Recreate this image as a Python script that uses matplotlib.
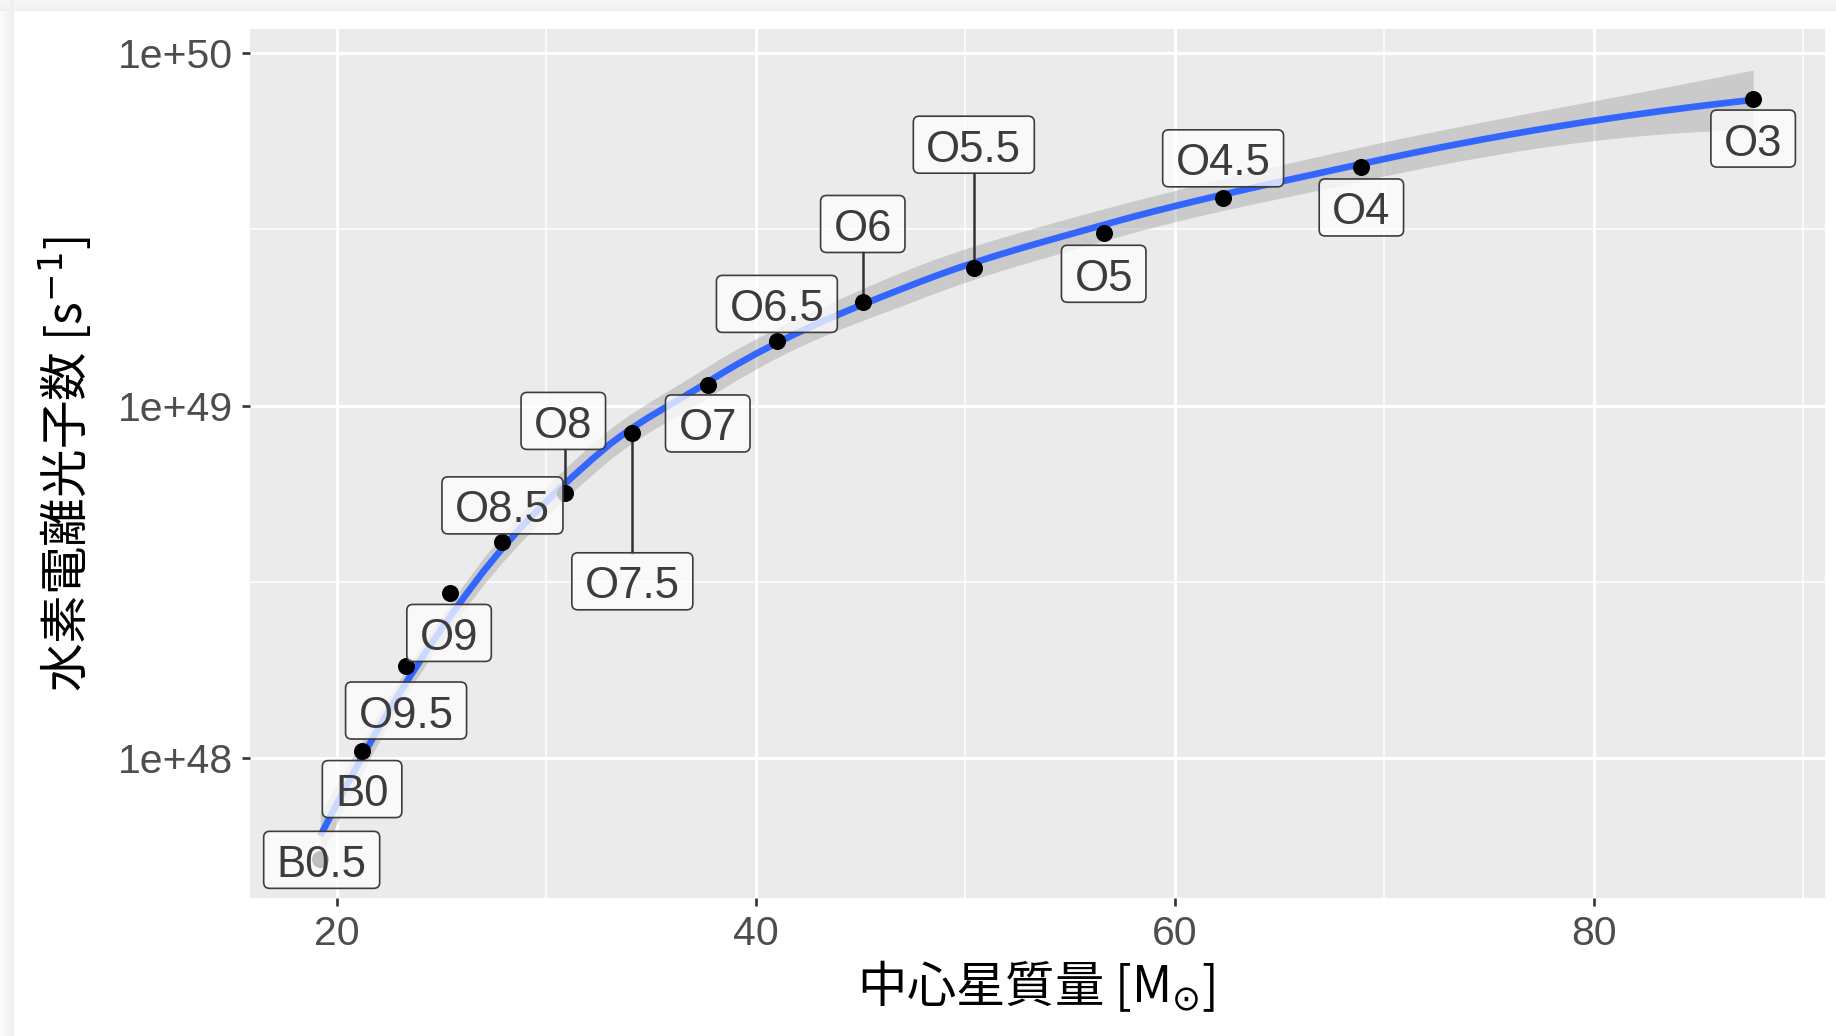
import numpy as np
import matplotlib
matplotlib.use("Agg")
import matplotlib.pyplot as plt
from matplotlib.patches import FancyBboxPatch
from matplotlib.lines import Line2D
from matplotlib.transforms import IdentityTransform
from matplotlib.ticker import FixedLocator, FixedFormatter, NullFormatter

# spectral type, stellar mass [Msun], ionising photon rate [s^-1]
spectral_type = ["B0.5", "B0", "O9.5", "O9", "O8.5", "O8", "O7.5", "O7",
                 "O6.5", "O6", "O5.5", "O5", "O4.5", "O4", "O3"]
mass = [19.2, 21.2, 23.3, 25.4, 27.9, 30.9, 34.1, 37.7,
        41.0, 45.1, 50.4, 56.6, 62.3, 68.9, 87.6]
q_h = [5.16e47, 1.05e48, 1.83e48, 2.94e48, 4.09e48, 5.65e48, 8.34e48, 1.14e49,
       1.52e49, 1.96e49, 2.46e49, 3.08e49, 3.87e49, 4.75e49, 7.40e49]

x_ticks = [20, 40, 60, 80]
x_tick_labels = ["20", "40", "60", "80"]
y_ticks = [1e48, 1e49, 1e50]
y_tick_labels = ["1e+48", "1e+49", "1e+50"]

# label placement (pixel offsets from each point, up is positive)
label_offset = [(1.5, -0.5), (0, -38.5), (0, -45), (-1, -40), (0, 37),
                (-2, 72), (0, -148), (0, -38), (0, 37.5), (0, 78.5),
                (0, 123), (0, -40.5), (0, 40), (0, -40.5), (0, -39.5)]
with_segment = ["O8", "O7.5", "O6", "O5.5"]

W, H, DPI = 1836, 1036, 100
LABEL_FONT = "Liberation Sans"
CJK = ["Noto Sans CJK JP", "DejaVu Sans"]


def local_fit(x, x0, q):
    """Rows of the local quadratic smoother at x0: value and slope."""
    n = len(x)
    d = np.abs(x - x0)
    h = np.sort(d)[q - 1]
    w = np.clip(1 - (d / h) ** 3, 0, None) ** 3
    X = np.column_stack([np.ones(n), x - x0, (x - x0) ** 2])
    XtW = X.T * w
    sol = np.linalg.solve(XtW @ X, XtW)
    return sol[0], sol[1]


def kd_vertices(x, fc):
    def split(pts):
        if len(pts) <= fc:
            return []
        m = np.median(pts)
        return split(pts[pts <= m]) + [m] + split(pts[pts > m])
    margin = 0.005 * (x.max() - x.min())
    return np.array([x.min() - margin] + split(np.sort(x)) + [x.max() + margin])


def hermite(xv, fv, dv, xn):
    i = np.clip(np.searchsorted(xv, xn) - 1, 0, len(xv) - 2)
    h = xv[i + 1] - xv[i]
    t = (xn - xv[i]) / h
    h00 = 2 * t**3 - 3 * t**2 + 1
    h10 = t**3 - 2 * t**2 + t
    h01 = -2 * t**3 + 3 * t**2
    h11 = t**3 - t**2
    return h00 * fv[i] + h10 * h * dv[i] + h01 * fv[i + 1] + h11 * h * dv[i + 1]


def loess(x, y, x_new, span=0.75):
    """Loess (degree 2) on kd-tree vertices with cubic interpolation, 95% band."""
    n = len(x)
    q = int(np.floor(n * span))
    fc = int(np.floor(n * span * 0.2))
    xv = kd_vertices(x, fc)

    def operator(points):
        rows = [local_fit(x, v, q) for v in points]
        return np.array([r[0] for r in rows]), np.array([r[1] for r in rows])

    Lv, Dv = operator(xv)

    def interp_rows(points):
        return np.array([hermite(xv, Lv[:, j], Dv[:, j], points)
                         for j in range(n)]).T

    L = interp_rows(x)
    M = (np.eye(n) - L).T @ (np.eye(n) - L)
    one_delta = np.trace(M)
    two_delta = np.trace(M @ M)
    s = np.sqrt(np.sum((y - L @ y) ** 2) / one_delta)
    df = one_delta ** 2 / two_delta
    z = 1.959964
    t = (z + (z**3 + z) / 4 / df
         + (5 * z**5 + 16 * z**3 + 3 * z) / 96 / df**2
         + (3 * z**7 + 19 * z**5 + 17 * z**3 - 15 * z) / 384 / df**3)
    Ln = interp_rows(x_new)
    fit = Ln @ y
    se = s * np.sqrt(np.sum(Ln ** 2, axis=1))
    return fit, fit - t * se, fit + t * se


x = np.array(mass)
logq = np.log10(np.array(q_h))
xs = np.linspace(x.min(), x.max(), 80)
fit, lo, hi = loess(x, logq, xs)

fig = plt.figure(figsize=(W / DPI, H / DPI), dpi=DPI)
fig.patch.set_facecolor("white")

# soft shadow along the left and top edges of the card
bg = np.ones((H, W, 3))
left = np.linspace(0.99, 0.935, 14)
top = np.linspace(0.975, 0.94, 11)
bg[:, :14, :] = left[None, :, None]
bg[:11, :, :] = np.minimum(bg[:11, :, :], top[:, None, None])
fig.figimage(bg, 0, 0, origin="upper", zorder=-1)

ax = fig.add_axes([250 / W, (H - 898) / H, 1575 / W, 869 / H])
ax.set_facecolor("#EBEBEB")
for sp in ax.spines.values():
    sp.set_visible(False)
ax.set_yscale("log")
ax.set_xlim(15.85, 91.03)
ax.set_ylim(10 ** 47.603, 10 ** 50.068)

ax.xaxis.set_major_locator(FixedLocator(x_ticks))
ax.xaxis.set_major_formatter(FixedFormatter(x_tick_labels))
ax.xaxis.set_minor_locator(FixedLocator([30, 50, 70, 90]))
ax.yaxis.set_major_locator(FixedLocator(y_ticks))
ax.yaxis.set_major_formatter(FixedFormatter(y_tick_labels))
ax.yaxis.set_minor_locator(FixedLocator([10 ** 48.5, 10 ** 49.5]))
ax.xaxis.set_minor_formatter(NullFormatter())
ax.yaxis.set_minor_formatter(NullFormatter())

ax.grid(True, which="major", color="white", linewidth=2.2)
ax.grid(True, which="minor", color="white", linewidth=1.1)
ax.set_axisbelow(True)
ax.tick_params(which="major", length=6, width=1.9, color="#333333",
               labelsize=29.5, labelcolor="#4D4D4D", pad=6)
ax.tick_params(which="minor", length=0)
for lab in ax.get_xticklabels() + ax.get_yticklabels():
    lab.set_family(LABEL_FONT)

# loess fit with confidence band
ax.fill_between(xs, 10 ** lo, 10 ** hi, color="#999999", alpha=0.4,
                linewidth=0, zorder=1)
ax.plot(xs, 10 ** fit, color="#3366FF", linewidth=4.8, zorder=2,
        solid_capstyle="butt")
ax.scatter(mass, q_h, s=150, color="black", zorder=4, linewidths=0)

# labels with boxes
renderer = fig.canvas.get_renderer()
BOX_H, PAD_X, BASE = 57, 13, 11.5
for name, mx, qy, (dx, dy) in zip(spectral_type, mass, q_h, label_offset):
    px, py = ax.transData.transform((mx, qy))
    cx, cy = px + dx, py + dy
    t = fig.text(cx, cy - BOX_H / 2 + BASE, name, transform=IdentityTransform(),
                 ha="center", va="baseline", fontsize=31.5, family=LABEL_FONT,
                 color="#3C3C3C", zorder=7)
    bw = t.get_window_extent(renderer).width + 2 * PAD_X
    box = FancyBboxPatch((cx - bw / 2, cy - BOX_H / 2), bw, BOX_H,
                         boxstyle="round,pad=0,rounding_size=6",
                         transform=IdentityTransform(),
                         facecolor=(1, 1, 1, 0.75), edgecolor="#3C3C3C",
                         linewidth=1.2, zorder=6)
    fig.add_artist(box)
    if name in with_segment:
        ex = min(max(px, cx - bw / 2), cx + bw / 2)
        ey = cy - BOX_H / 2 if dy > 0 else cy + BOX_H / 2
        ax.add_line(Line2D([px, ex], [py, ey], transform=IdentityTransform(),
                           color="#333333", linewidth=1.8, zorder=3))

fig.text(1036 / W, (H - 986) / H, "中心星質量 [M$_{\\odot}$]", ha="center",
         va="center", fontsize=35.5, family=CJK, color="black")
fig.text(65 / W, (H - 464) / H, "水素電離光子数 [s$^{-1}$]", ha="center",
         va="center", rotation=90, fontsize=35, family=CJK, color="black")

fig.savefig("out.png", dpi=DPI)
